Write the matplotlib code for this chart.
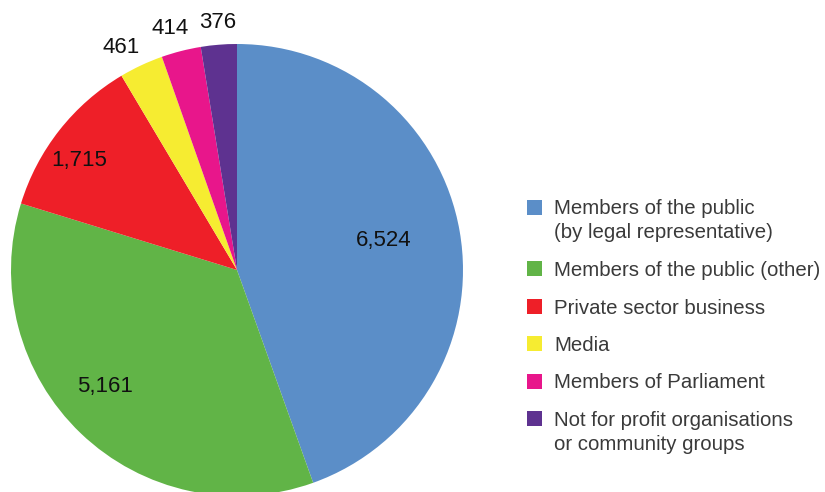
import numpy as np
import matplotlib.pyplot as plt
from matplotlib.patches import Rectangle

plt.rcParams['font.family'] = ['Liberation Sans', 'DejaVu Sans']

# complaints by source
labels = ['Members of the public\n(by legal representative)',
          'Members of the public (other)',
          'Private sector business',
          'Media',
          'Members of Parliament',
          'Not for profit organisations\nor community groups']
values = [6524, 5161, 1715, 461, 414, 376]
colors = ['#5b8ec8', '#61b447', '#ee1f28', '#f6ec31', '#e8168b', '#5e3290']

# radial position of each value label (fraction of radius) and small angle nudges
label_r = [0.66, 0.78, 0.85, 1.11, 1.11, 1.10]
label_dtheta = [1.6, -5.0, 3.4, 2.5, 1.1, -0.2]

W, H = 825, 492
fig = plt.figure(figsize=(W / 100, H / 100), dpi=100)

# pie centre (237, 270) px from top-left, radius 226 px
cx, cy, R = 237, 270, 226
ax = fig.add_axes([(cx - R) / W, (H - cy - R) / H, 2 * R / W, 2 * R / H])
wedges, _ = ax.pie(values, colors=colors, startangle=90, counterclock=False,
                   radius=1, wedgeprops=dict(linewidth=0))
ax.set_xlim(-1, 1)
ax.set_ylim(-1, 1)
ax.set_aspect('equal')
ax.axis('off')

for w, v, r, dt in zip(wedges, values, label_r, label_dtheta):
    ang = np.deg2rad((w.theta1 + w.theta2) / 2 + dt)
    ax.text(r * np.cos(ang), r * np.sin(ang), f'{v:,}', ha='center', va='center',
            fontsize=16, color='#111111', clip_on=False)

# legend, drawn by hand so the swatch sits on the first text line
y = 207
for lab, c in zip(labels, colors):
    fig.patches.append(Rectangle((527 / W, 1 - (y + 7.5) / H), 15 / W, 15 / H,
                                 transform=fig.transFigure, facecolor=c,
                                 edgecolor='none'))
    lines = lab.split('\n')
    for i, line in enumerate(lines):
        fig.text(554 / W, 1 - (y + 24 * i) / H, line, ha='left', va='center_baseline',
                 fontsize=14.7, color='#3a3a3a')
    y += 24 * (len(lines) - 1) + 37.5

fig.savefig('out.png', dpi=100)
